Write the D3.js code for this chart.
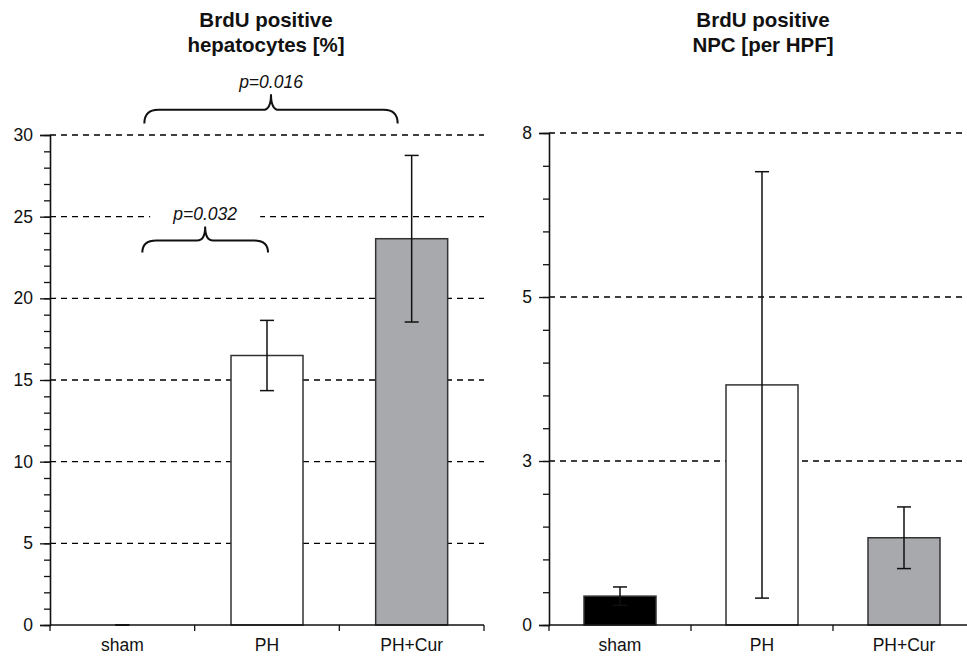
<!DOCTYPE html>
<html>
<head>
<meta charset="utf-8">
<script src="https://cdn.jsdelivr.net/npm/d3@7"></script>
<style>
body { margin: 0; background: #fff; }
text { font-family: "Liberation Sans", Arial, sans-serif; fill: #111; }
</style>
</head>
<body>
<svg id="chart"></svg>
<script>
var width = 967,
height = 656;

// data
var groups = ["sham", "PH", "PH+Cur"];
var hepMean = [0, 16.5, 23.65];
var hepErr = [0, 2.15, 5.1];
var npcMean = [0.44, 3.66, 1.33];
var npcErr = [0.14, 3.25, 0.47];
var fills = ["#000000", "#ffffff", "#a8a9ad"];

var hepTicks = [0, 5, 10, 15, 20, 25, 30];
var npcTicks = [0, 2.5, 5, 7.5];

// p value brackets: from group, to group, y of ends, y of tip (data units)
var hepBrackets = [
  {label: "p=0.016", from: "sham", to: "PH+Cur", off0: 22, off1: -14, yEnd: 30.7, yTip: 32.5},
  {label: "p=0.032", from: "sham", to: "PH", off0: 20, off1: 1, yEnd: 22.8, yTip: 24.4}
];

var svg = d3.select("#chart")
.attr("width", width)
.attr("height", height);

function drawPanel(opt) {
  var x = d3.scaleBand()
  .domain(groups)
  .range([opt.left, opt.right])
  .padding(0);

  var y = d3.scaleLinear()
  .domain(opt.domain)
  .range([625, opt.top]);

  var g = svg.append("g");

  // title
  g.append("text")
  .attr("x", opt.titleX)
  .attr("y", 27)
  .attr("text-anchor", "middle")
  .style("font-size", "20.5px")
  .style("font-weight", "bold")
  .text(opt.title[0]);
  g.append("text")
  .attr("x", opt.titleX)
  .attr("y", 52)
  .attr("text-anchor", "middle")
  .style("font-size", "20.5px")
  .style("font-weight", "bold")
  .text(opt.title[1]);

  // dashed grid lines
  g.selectAll(".grid")
  .data(opt.ticks.filter(function (d) { return d > 0; }))
  .enter().append("line")
  .attr("x1", opt.left)
  .attr("x2", opt.gridEnd)
  .attr("y1", function (d) { return y(d); })
  .attr("y2", function (d) { return y(d); })
  .attr("stroke", "#000")
  .attr("stroke-width", 1.3)
  .attr("stroke-dasharray", "6,5");

  // bars
  g.selectAll(".bar")
  .data(opt.mean)
  .enter().append("rect")
  .attr("x", function (d, i) { return x(groups[i]) + x.bandwidth() / 2 - 36; })
  .attr("width", 72)
  .attr("y", function (d) { return y(d); })
  .attr("height", function (d) { return y(0) - y(d); })
  .attr("fill", function (d, i) { return fills[i]; })
  .attr("stroke", function (d) { return d > 0 ? "#333" : "none"; })
  .attr("stroke-width", 1.5);

  // error bars
  opt.mean.forEach(function (m, i) {
    var cx = x(groups[i]) + x.bandwidth() / 2;
    var e = opt.err[i];
    g.append("line")
    .attr("x1", cx).attr("x2", cx)
    .attr("y1", y(m - e)).attr("y2", y(m + e))
    .attr("stroke", "#111").attr("stroke-width", 1.5);
    [m - e, m + e].forEach(function (v) {
      g.append("line")
      .attr("x1", cx - 7).attr("x2", cx + 7)
      .attr("y1", y(v)).attr("y2", y(v))
      .attr("stroke", "#111").attr("stroke-width", 1.5);
    });
  });

  // y axis, major + minor ticks
  var minor = g.append("g")
  .attr("transform", "translate(" + opt.left + ",0)")
  .call(d3.axisLeft(y).tickValues(d3.range(opt.domain[0], opt.domain[1] + 1e-9, opt.minorStep)).tickSize(6).tickFormat(""));
  minor.select(".domain").remove();
  minor.selectAll("line").attr("stroke", "#111").attr("stroke-width", 1.3);

  var yAxis = g.append("g")
  .attr("transform", "translate(" + opt.left + ",0)")
  .call(d3.axisLeft(y).tickValues(opt.ticks).tickSize(10).tickPadding(7).tickFormat(d3.format(".0f")));
  yAxis.select(".domain").attr("stroke", "#111").attr("stroke-width", 1.6);
  yAxis.selectAll("line").attr("stroke", "#111").attr("stroke-width", 1.3);
  yAxis.selectAll("text").style("font-size", "17.5px").attr("fill", "#111");

  // x axis baseline with ticks at group boundaries
  g.append("line")
  .attr("x1", opt.left).attr("x2", opt.right)
  .attr("y1", y(0)).attr("y2", y(0))
  .attr("stroke", "#111").attr("stroke-width", 1.6);
  var bounds = groups.map(function (d) { return x(d); }).concat([opt.right]);
  g.selectAll(".xtick")
  .data(bounds)
  .enter().append("line")
  .attr("x1", function (d) { return d; })
  .attr("x2", function (d) { return d; })
  .attr("y1", y(0))
  .attr("y2", y(0) + 6)
  .attr("stroke", "#111")
  .attr("stroke-width", 1.3);
  g.selectAll(".xlab")
  .data(groups)
  .enter().append("text")
  .attr("x", function (d) { return x(d) + x.bandwidth() / 2; })
  .attr("y", 651)
  .attr("text-anchor", "middle")
  .style("font-size", "17.5px")
  .text(function (d) { return d; });

  // brackets with p values
  (opt.brackets || []).forEach(function (b) {
    var x0 = x(b.from) + x.bandwidth() / 2 + b.off0,
    x1 = x(b.to) + x.bandwidth() / 2 + b.off1,
    xm = (x0 + x1) / 2,
    ye = y(b.yEnd),
    yt = y(b.yTip),
    ym = (ye + yt) / 2 + 1,
    r = 14;
    g.append("rect")
    .attr("x", xm - 55).attr("y", yt - 24)
    .attr("width", 110).attr("height", 20)
    .attr("fill", "#fff");
    g.append("text")
    .attr("x", xm)
    .attr("y", yt - 6)
    .attr("text-anchor", "middle")
    .style("font-size", "17.5px")
    .style("font-style", "italic")
    .text(b.label);
    g.append("path")
    .attr("d", "M" + x0 + "," + ye +
      " Q" + x0 + "," + ym + " " + (x0 + r) + "," + ym +
      " L" + (xm - 8) + "," + ym +
      " Q" + xm + "," + ym + " " + xm + "," + yt +
      " Q" + xm + "," + ym + " " + (xm + 8) + "," + ym +
      " L" + (x1 - r) + "," + ym +
      " Q" + x1 + "," + ym + " " + x1 + "," + ye)
    .attr("fill", "none")
    .attr("stroke", "#111")
    .attr("stroke-width", 2);
  });
}

drawPanel({
  left: 50, right: 484, gridEnd: 484, top: 135,
  domain: [0, 30], minorStep: 1, ticks: hepTicks,
  mean: hepMean, err: hepErr,
  title: ["BrdU positive", "hepatocytes [%]"], titleX: 266,
  brackets: hepBrackets
});

drawPanel({
  left: 549, right: 975, gridEnd: 967, top: 133,
  domain: [0, 7.5], minorStep: 0.5, ticks: npcTicks,
  mean: npcMean, err: npcErr,
  title: ["BrdU positive", "NPC [per HPF]"], titleX: 763
});
</script>
</body>
</html>
